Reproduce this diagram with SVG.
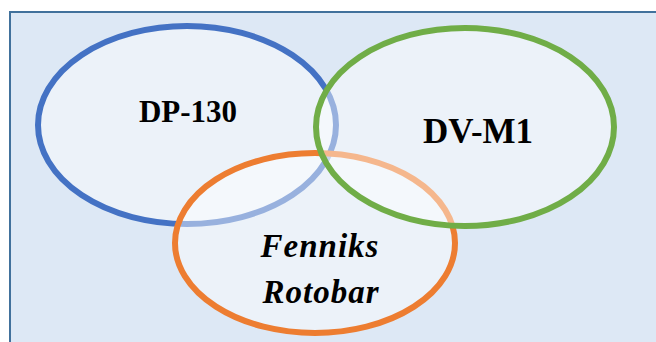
<svg xmlns="http://www.w3.org/2000/svg" width="656" height="342" viewBox="0 0 656 342">
<style>
.v{fill:#ffffff;fill-opacity:0.45;stroke-width:6}
.t{font-family:"Liberation Serif","Times New Roman",serif;font-weight:bold;fill:#000;text-anchor:middle}
.i{font-style:italic;font-size:33px;letter-spacing:1px}
</style>
<rect x="0" y="0" width="656" height="342" fill="#ffffff"/>
<rect id="frame" x="10" y="12" width="660" height="340" fill="#dde8f5" stroke="#41719c" stroke-width="2"/>
<g id="dp130">
<ellipse class="v" cx="187" cy="125" rx="149" ry="99" stroke="#4472c4"/>
<text class="t" x="188" y="122" font-size="31">DP-130</text>
</g>
<g id="fenniks">
<ellipse class="v" cx="315" cy="243" rx="140" ry="90" stroke="#ed7d31"/>
<text class="t i" x="320" y="257">Fenniks</text>
<text class="t i" x="321" y="303">Rotobar</text>
</g>
<g id="dvm1">
<ellipse class="v" cx="465" cy="127" rx="149" ry="99" stroke="#70ad47"/>
<text class="t" x="478" y="143" font-size="35">DV-M1</text>
</g>
<g id="connectors"></g>
</svg>
